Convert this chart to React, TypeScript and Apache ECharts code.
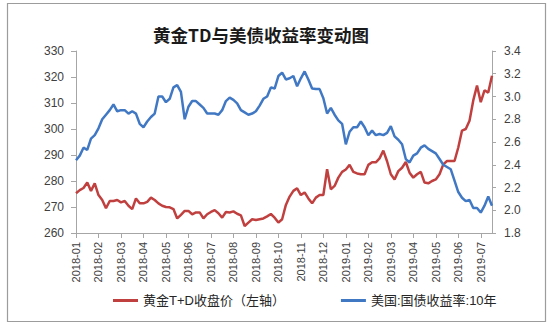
import React, { useEffect, useRef } from 'react';
import * as echarts from 'echarts';

const titleText = '黄金TD与美债收益率变动图';
const goldName = '黄金T+D收盘价（左轴）';
const yieldName = '美国:国债收益率:10年';

const months = [
  '2018-01', '2018-02', '2018-03', '2018-04', '2018-05', '2018-06',
  '2018-07', '2018-08', '2018-09', '2018-10', '2018-11', '2018-12',
  '2019-01', '2019-02', '2019-03', '2019-04', '2019-05', '2019-06', '2019-07',
];
const slotsPerMonth = [1, 2, 3, 4, 5, 6];

const goldPrice = [
  275.3, 276.5, 277.3, 279.4, 276.2, 279.1,
  274.6, 272.7, 269.5, 272.3, 272.3, 272.7,
  271.8, 272.3, 270.5, 269.2, 273.3, 271.4,
  271.4, 272.0, 273.6, 272.7, 271.4, 270.5,
  270.0, 269.9, 269.2, 265.6, 267.0, 268.5,
  268.5, 267.2, 267.9, 267.9, 265.6, 267.2,
  268.1, 268.8, 267.6, 265.9, 268.1, 267.9,
  268.3, 267.4, 266.8, 262.7, 264.0, 265.3,
  265.0, 265.3, 265.6, 266.4, 267.3, 265.9,
  264.0, 265.3, 270.8, 274.0, 276.2, 277.2,
  274.6, 275.6, 273.3, 271.4, 273.6, 274.6,
  274.6, 284.5, 276.8, 278.1, 281.3, 283.5,
  284.4, 286.2, 283.5, 282.9, 282.6, 282.6,
  286.2, 287.2, 287.2, 288.7, 291.7, 287.6,
  282.6, 280.6, 283.8, 285.1, 287.3, 283.2,
  281.3, 282.6, 283.5, 279.4, 279.1, 280.0,
  280.6, 282.6, 286.4, 287.7, 287.7, 287.7,
  292.9, 299.4, 300.0, 303.2, 311.0, 316.7,
  310.3, 314.9, 314.0, 320.5,
];

const usYield = [
  2.44, 2.48, 2.55, 2.53, 2.63, 2.66,
  2.72, 2.80, 2.84, 2.88, 2.93, 2.87,
  2.88, 2.88, 2.85, 2.87, 2.85, 2.76,
  2.73, 2.78, 2.82, 2.85, 3.00, 3.00,
  2.95, 2.98, 3.08, 3.10, 3.04, 2.80,
  2.91, 2.96, 2.96, 2.93, 2.90, 2.85,
  2.85, 2.85, 2.84, 2.88, 2.96, 2.99,
  2.97, 2.94, 2.88, 2.86, 2.84, 2.85,
  2.87, 2.92, 2.98, 3.00, 3.08, 3.07,
  3.18, 3.21, 3.15, 3.16, 3.18, 3.09,
  3.16, 3.22, 3.15, 3.07, 3.065, 3.065,
  2.985, 2.85, 2.90, 2.84, 2.79, 2.76,
  2.58, 2.69, 2.73, 2.73, 2.78, 2.73,
  2.66, 2.70, 2.66, 2.67, 2.66, 2.68,
  2.74, 2.65, 2.62, 2.58, 2.45, 2.42,
  2.48, 2.50, 2.55, 2.57, 2.54, 2.52,
  2.50, 2.45, 2.40, 2.38, 2.36, 2.26,
  2.16, 2.11, 2.08, 2.09, 2.02, 2.02,
  1.98, 2.04, 2.12, 2.04,
];

const leftMin = 260, leftMax = 330, leftStep = 10;
const rightMin = 1.8, rightMax = 3.4, rightStep = 0.2;

const RED = '#c0403f';
const BLUE = '#4178c4';
const AXIS = '#a6a6a6';
const LABEL = '#404040';
const FONT = '"Liberation Sans", "Noto Sans CJK SC", sans-serif';

export default function App() {
  const ref = useRef<HTMLDivElement>(null);
  useEffect(() => {
    document.body.style.margin = '0';
    const chart = echarts.init(ref.current!, null, { renderer: 'svg' });
    const categories = months
      .flatMap((m) => slotsPerMonth.map((k) => `${m}|${k}`))
      .slice(0, goldPrice.length);
    chart.setOption({
      animation: false,
      backgroundColor: '#fff',
      textStyle: { fontFamily: FONT },
      title: {
        text: titleText,
        left: 148,
        top: 21,
        textStyle: { fontSize: 17.5, fontWeight: 'bold', color: '#1a1a1a', fontFamily: '"Noto Sans CJK SC", sans-serif' },
      },
      graphic: [
        {
          type: 'rect',
          shape: { x: 7.5, y: 3.5, width: 538, height: 318 },
          style: { fill: 'none', stroke: '#9c9c9c', lineWidth: 1.2 },
          silent: true,
        },
      ],
      legend: {
        left: 108,
        top: 289,
        icon: 'rect',
        itemWidth: 25,
        itemHeight: 3,
        itemGap: 56,
        textStyle: { fontSize: 13, color: '#262626', fontFamily: FONT },
        data: [goldName, yieldName],
      },
      grid: { left: 76, right: 58, top: 51, bottom: 94, containLabel: false },
      xAxis: {
        type: 'category',
        data: categories,
        boundaryGap: false,
        axisLine: { lineStyle: { color: AXIS, width: 1 } },
        axisTick: { interval: 5, length: 5, lineStyle: { color: AXIS } },
        axisLabel: {
          interval: 5,
          rotate: 90,
          margin: 9,
          fontSize: 11,
          color: LABEL,
          formatter: (v: string) => v.split('|')[0],
        },
        splitLine: { show: false },
      },
      yAxis: [
        {
          type: 'value',
          min: leftMin,
          max: leftMax,
          interval: leftStep,
          position: 'left',
          axisLine: { show: true, lineStyle: { color: AXIS } },
          axisTick: { show: true, length: 5, lineStyle: { color: AXIS } },
          axisLabel: { fontSize: 12, color: LABEL, margin: 12 },
          splitLine: { show: false },
        },
        {
          type: 'value',
          min: rightMin,
          max: rightMax,
          interval: rightStep,
          position: 'right',
          axisLine: { show: true, lineStyle: { color: AXIS } },
          axisTick: { show: true, length: 4, lineStyle: { color: AXIS } },
          axisLabel: {
            fontSize: 12,
            color: LABEL,
            margin: 12,
            formatter: (v: number) => v.toFixed(1),
          },
          splitLine: { show: false },
        },
      ],
      series: [
        {
          name: goldName,
          type: 'line',
          yAxisIndex: 0,
          data: goldPrice,
          showSymbol: false,
          symbol: 'none',
          lineStyle: { color: RED, width: 2.5 },
          itemStyle: { color: RED },
        },
        {
          name: yieldName,
          type: 'line',
          yAxisIndex: 1,
          data: usYield,
          showSymbol: false,
          symbol: 'none',
          lineStyle: { color: BLUE, width: 2.5 },
          itemStyle: { color: BLUE },
        },
      ],
    });
    return () => chart.dispose();
  }, []);
  return <div ref={ref} style={{ width: 550, height: 327 }} />;
}
